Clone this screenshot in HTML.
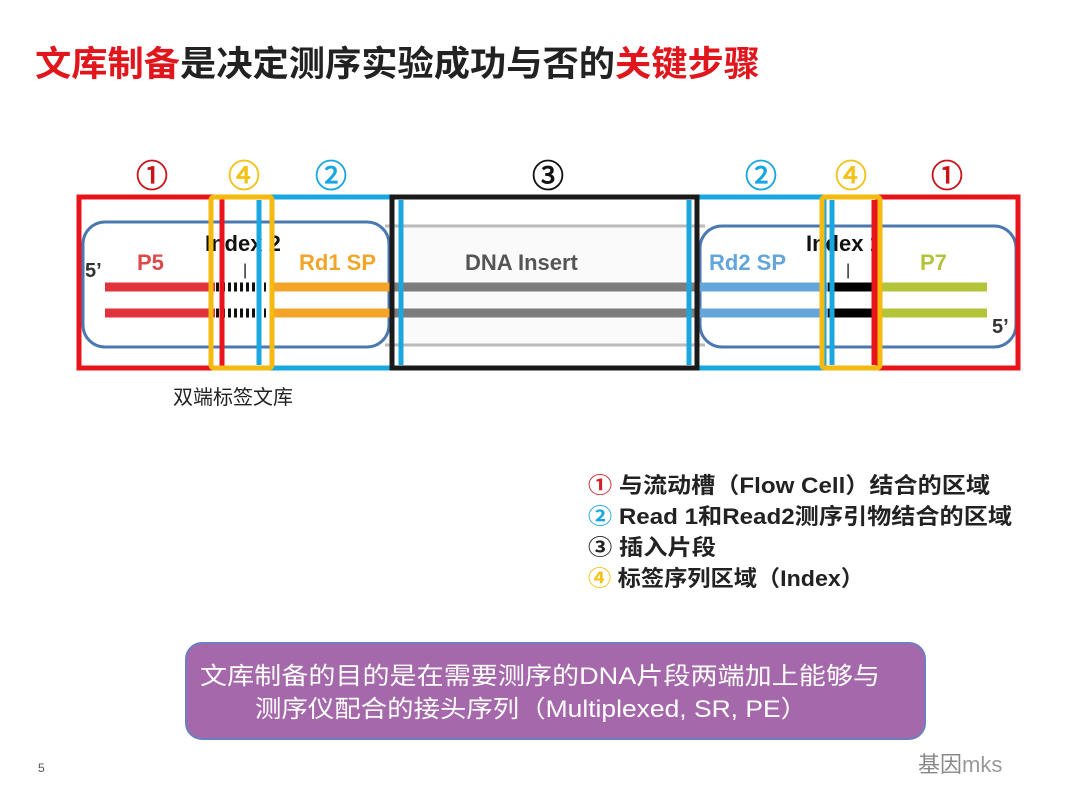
<!DOCTYPE html>
<html><head><meta charset="utf-8"><style>
html,body{margin:0;padding:0;background:#fff;}
svg{display:block;}
text{font-family:"Liberation Sans","Noto Sans CJK SC",sans-serif;}
</style></head><body>
<svg width="1080" height="810" viewBox="0 0 1080 810" xmlns="http://www.w3.org/2000/svg">
<rect width="1080" height="810" fill="#fff"/>
<text x="35" y="76" font-size="35" font-weight="bold" fill="#222" textLength="725" lengthAdjust="spacingAndGlyphs"><tspan fill="#e0161c">文库制备</tspan>是决定测序实验成功与否的<tspan fill="#e0161c">关键步骤</tspan></text>

<rect x="385" y="224" width="320" height="122" fill="#fafafa"/>
<line x1="385" y1="226" x2="705" y2="226" stroke="#bbb" stroke-width="3"/>
<line x1="385" y1="345" x2="705" y2="345" stroke="#bbb" stroke-width="3"/>
<rect x="83" y="222" width="306" height="125" rx="22" fill="#fff" stroke="#4a78b0" stroke-width="3"/>
<rect x="700" y="226" width="316" height="121" rx="22" fill="#fff" stroke="#4a78b0" stroke-width="3"/>

<g stroke-width="9">
<line x1="105" y1="287" x2="215" y2="287" stroke="#e0323a"/>
<line x1="105" y1="313" x2="215" y2="313" stroke="#e0323a"/>
<line x1="216" y1="287" x2="266" y2="287" stroke="#111" stroke-dasharray="3,3"/>
<line x1="216" y1="313" x2="266" y2="313" stroke="#111" stroke-dasharray="3,3"/>
<line x1="272" y1="287" x2="392" y2="287" stroke="#f3a52a"/>
<line x1="272" y1="313" x2="392" y2="313" stroke="#f3a52a"/>
<line x1="392" y1="287" x2="700" y2="287" stroke="#7d7d7d"/>
<line x1="392" y1="313" x2="700" y2="313" stroke="#7d7d7d"/>
<line x1="700" y1="287" x2="828" y2="287" stroke="#64a6db"/>
<line x1="700" y1="313" x2="828" y2="313" stroke="#64a6db"/>
<line x1="828" y1="287" x2="873" y2="287" stroke="#000"/>
<line x1="828" y1="313" x2="873" y2="313" stroke="#000"/>
<line x1="873" y1="287" x2="987" y2="287" stroke="#b3c43a"/>
<line x1="873" y1="313" x2="987" y2="313" stroke="#b3c43a"/>
</g>

<g font-weight="bold" font-size="22">
<text x="137" y="270" fill="#de4a4a">P5</text>
<text x="205" y="251" fill="#111">Index 2</text>
<text x="243" y="275" fill="#111" font-size="16" font-weight="normal">|</text>
<text x="299" y="270" fill="#f3a52a">Rd1 SP</text>
<text x="465" y="270" fill="#555">DNA Insert</text>
<text x="709" y="270" fill="#64a6db">Rd2 SP</text>
<text x="806" y="251" fill="#111">Index 1</text>
<text x="846" y="275" fill="#111" font-size="16" font-weight="normal">|</text>
<text x="920" y="270" fill="#b3c43a">P7</text>
<text x="85" y="277" fill="#333" font-size="20">5’</text>
<text x="992" y="333" fill="#333" font-size="20">5’</text>
</g>

<g fill="none" stroke-width="5">
<rect x="79" y="197" width="143" height="171" stroke="#e8141b"/>
<rect x="272" y="197" width="120" height="171" stroke="#1aa7e0"/>
<rect x="697" y="197" width="127" height="171" stroke="#1aa7e0"/>
<rect x="878" y="197" width="140" height="171" stroke="#e8141b"/>
<rect x="392" y="197" width="305" height="171" stroke="#1a1a1a"/>
</g>
<line x1="222" y1="200" x2="222" y2="365" stroke="#e8141b" stroke-width="5"/>
<line x1="259" y1="200" x2="259" y2="365" stroke="#1aa7e0" stroke-width="5"/>
<line x1="401" y1="200" x2="401" y2="365" stroke="#1aa7e0" stroke-width="5"/>
<line x1="689" y1="200" x2="689" y2="365" stroke="#1aa7e0" stroke-width="5"/>
<line x1="832" y1="200" x2="832" y2="365" stroke="#1aa7e0" stroke-width="5"/>
<line x1="874" y1="200" x2="874" y2="365" stroke="#e8141b" stroke-width="5"/>
<rect x="211" y="197" width="61" height="171" rx="3" fill="none" stroke="#f5b90f" stroke-width="5"/>
<rect x="822" y="197" width="58" height="171" rx="3" fill="none" stroke="#f5b90f" stroke-width="5"/>

<g font-size="32" text-anchor="middle" stroke-width="0.8">
<text x="152" y="187" fill="#c8141b" stroke="#c8141b">①</text>
<text x="244" y="187" fill="#f3c21a" stroke="#f3c21a">④</text>
<text x="331" y="187" fill="#1aa7e0" stroke="#1aa7e0">②</text>
<text x="548" y="187" fill="#111" stroke="#111">③</text>
<text x="761" y="187" fill="#1aa7e0" stroke="#1aa7e0">②</text>
<text x="851" y="187" fill="#f3c21a" stroke="#f3c21a">④</text>
<text x="947" y="187" fill="#c8141b" stroke="#c8141b">①</text>
</g>

<text x="173" y="404" font-size="20" fill="#222">双端标签文库</text>

<g font-size="22" font-weight="bold" fill="#222" lengthAdjust="spacingAndGlyphs">
<text x="588" y="493" textLength="402" lengthAdjust="spacingAndGlyphs"><tspan fill="#d4202a">①</tspan> 与流动槽（Flow Cell）结合的区域</text>
<text x="588" y="524" textLength="424" lengthAdjust="spacingAndGlyphs"><tspan fill="#1aa7e0">②</tspan> Read 1和Read2测序引物结合的区域</text>
<text x="588" y="555" textLength="128" lengthAdjust="spacingAndGlyphs">③ 插入片段</text>
<text x="588" y="586" textLength="276" lengthAdjust="spacingAndGlyphs"><tspan fill="#f3c21a">④</tspan> 标签序列区域（Index）</text>
</g>

<rect x="186" y="643" width="739" height="96" rx="16" fill="#a569ab" stroke="#6d7fc0" stroke-width="2"/>
<text x="200" y="684" font-size="24" fill="#fff" textLength="680" lengthAdjust="spacingAndGlyphs">文库制备的目的是在需要测序的DNA片段两端加上能够与</text>
<text x="255" y="717" font-size="24" fill="#fff" textLength="552" lengthAdjust="spacingAndGlyphs">测序仪配合的接头序列（Multiplexed, SR, PE）</text>

<text x="38" y="772" font-size="12" fill="#555">5</text>
<text x="918" y="772" font-size="22" fill="#888">基因</text>
<text x="962" y="772" font-size="22" fill="#999">mks</text>
</svg>
</body></html>
